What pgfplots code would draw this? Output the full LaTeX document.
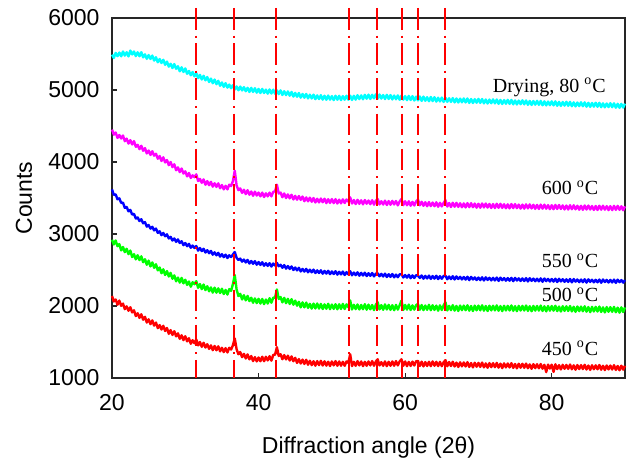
\documentclass[border=0pt]{standalone}
\usepackage{pgfplots}
\pgfplotsset{compat=1.18}
\usepackage{pgfplotstable}
\usepackage{fontspec}
\setmainfont{Liberation Sans}
\newfontfamily\seriflabel{Liberation Serif}

% XRD patterns: 2theta, then counts for each treatment temperature
\pgfplotstableread{
x dry t600 t550 t500 t450
20 5490 4450 3620 2920 2140
20.25 5445 4380 3543 2855 2063
20.5 5515 4410 3550 2910 2090
20.75 5470 4335 3483 2830 2018
21 5520 4375 3495 2860 2075
21.25 5468 4326 3433 2773 2003
21.5 5535 4368 3435 2820 2033
21.75 5478 4289 3363 2748 1956
22 5525 4325 3375 2795 1995
22.25 5466 4256 3315 2720 1934
22.5 5548 4303 3335 2770 1983
22.75 5494 4244 3270 2680 1911
23 5535 4290 3280 2720 1940
23.25 5471 4211 3215 2648 1860
23.5 5523 4238 3230 2705 1900
23.75 5469 4179 3180 2638 1835
24 5525 4225 3205 2690 1885
24.25 5453 4156 3148 2608 1810
24.5 5495 4193 3165 2650 1850
24.75 5433 4119 3103 2573 1770
25 5485 4160 3125 2630 1815
25.25 5431 4098 3075 2550 1748
25.5 5478 4150 3100 2605 1800
25.75 5409 4088 3050 2530 1728
26 5455 4115 3075 2580 1770
26.25 5385 4046 3016 2495 1693
26.5 5430 4083 3038 2535 1735
26.75 5375 4014 2984 2455 1673
27 5420 4065 3015 2510 1725
27.25 5350 3994 2968 2430 1653
27.5 5395 4028 2995 2485 1695
27.75 5325 3956 2938 2410 1613
28 5365 4000 2960 2460 1665
28.25 5305 3929 2909 2378 1598
28.5 5360 3968 2938 2425 1650
28.75 5295 3886 2891 2343 1578
29 5330 3925 2925 2395 1620
29.25 5260 3860 2875 2325 1544
29.5 5315 3910 2900 2390 1593
29.75 5250 3840 2845 2315 1526
30 5300 3870 2875 2365 1580
30.25 5225 3801 2831 2293 1509
30.5 5265 3848 2863 2340 1553
30.75 5205 3779 2809 2268 1476
31 5250 3815 2840 2330 1525
31.25 5190 3789 2806 2303 1483
31.5 5235 3828 2833 2345 1535
31.75 5165 3736 2769 2253 1453
32 5210 3765 2805 2305 1500
32.25 5146 3711 2763 2234 1433
32.5 5198 3758 2795 2298 1490
32.75 5134 3684 2743 2221 1423
33 5180 3735 2775 2275 1470
33.25 5111 3678 2733 2204 1404
33.5 5158 3725 2765 2258 1453
33.75 5094 3658 2713 2186 1386
34 5145 3705 2745 2255 1445
34.25 5081 3654 2704 2185 1385
34.5 5128 3703 2738 2245 1440
34.75 5059 3636 2686 2180 1370
35 5105 3680 2720 2240 1420
35.25 5043 3620 2679 2166 1360
35.5 5095 3670 2713 2223 1415
35.75 5033 3620 2666 2159 1355
36 5075 3685 2705 2235 1420
36.25 5024 3665 2680 2210 1395
36.5 5068 3735 2715 2305 1455
36.75 5006 3880 2750 2430 1550
37 5050 3675 2670 2230 1400
37.25 4996 3609 2639 2139 1330
37.5 5048 3633 2658 2168 1360
37.75 4994 3571 2616 2091 1290
38 5040 3615 2645 2150 1335
38.25 4983 3554 2605 2078 1271
38.5 5030 3608 2640 2140 1328
38.75 4973 3546 2590 2068 1259
39 5030 3590 2625 2115 1305
39.25 4973 3531 2586 2045 1235
39.5 5025 3588 2623 2105 1290
39.75 4963 3534 2574 2040 1230
40 5015 3575 2610 2100 1285
40.25 4958 3523 2571 2034 1233
40.5 5015 3575 2608 2098 1295
40.75 4958 3513 2559 2026 1233
41 5005 3565 2595 2090 1295
41.25 4949 3523 2558 2034 1244
41.5 5008 3575 2595 2108 1303
41.75 4951 3523 2548 2046 1241
42 5005 3585 2590 2115 1320
42.25 4948 3593 2563 2118 1324
42.5 4995 3685 2598 2230 1428
42.75 4943 3563 2552 2098 1306
43 4995 3575 2573 2125 1330
43.25 4931 3511 2531 2051 1261
43.5 4983 3563 2568 2113 1318
43.75 4929 3499 2519 2039 1259
44 4980 3550 2555 2100 1310
44.25 4921 3495 2515 2028 1243
44.5 4973 3545 2550 2095 1300
44.75 4909 3480 2500 2018 1233
45 4960 3530 2535 2075 1280
45.25 4906 3476 2495 2004 1209
45.5 4958 3528 2530 2058 1263
45.75 4894 3474 2480 1981 1201
46 4945 3520 2515 2050 1255
46.25 4893 3456 2478 1981 1196
46.5 4945 3508 2515 2048 1253
46.75 4883 3454 2468 1974 1184
47 4935 3505 2505 2030 1240
47.25 4883 3448 2468 1964 1179
47.5 4935 3500 2505 2033 1233
47.75 4873 3438 2458 1966 1171
48 4925 3490 2495 2035 1235
48.25 4874 3439 2458 1964 1179
48.5 4928 3493 2496 2029 1239
48.75 4866 3441 2449 1958 1173
49 4920 3490 2487 2022 1232
49.25 4864 3429 2450 1962 1172
49.5 4923 3483 2489 2031 1226
49.75 4866 3431 2442 1956 1166
50 4915 3485 2480 2020 1230
50.25 4860 3429 2444 1960 1175
50.5 4920 3484 2483 2025 1235
50.75 4865 3423 2436 1954 1170
51 4920 3477 2475 2024 1230
51.25 4860 3426 2439 1959 1170
51.5 4915 3481 2478 2029 1225
51.75 4865 3430 2431 1958 1170
52 4920 3480 2470 2023 1230
52.25 4865 3449 2439 1983 1210
52.5 4921 3508 2483 2077 1330
52.75 4861 3423 2426 1952 1165
53 4920 3472 2465 2017 1225
53.25 4866 3416 2429 1957 1170
53.5 4928 3475 2468 2021 1235
53.75 4874 3419 2421 1951 1175
54 4925 3468 2460 2015 1230
54.25 4871 3412 2424 1955 1165
54.5 4933 3472 2463 2025 1225
54.75 4879 3421 2416 1949 1170
55 4935 3465 2455 2019 1230
55.25 4876 3414 2419 1954 1175
55.5 4933 3469 2458 2014 1235
55.75 4884 3408 2411 1943 1170
56 4940 3462 2450 2018 1230
56.25 4879 3486 2454 2053 1260
56.5 4938 3411 2413 1953 1175
56.75 4881 3455 2446 2012 1220
57 4930 3409 2410 1947 1170
57.25 4874 3463 2449 2022 1230
57.5 4933 3403 2403 1952 1165
57.75 4876 3457 2441 2016 1225
58 4930 3406 2405 1946 1170
58.25 4869 3460 2444 2011 1230
58.5 4923 3410 2398 1941 1170
58.75 4871 3459 2436 2015 1235
59 4925 3398 2400 1950 1175
59.25 4864 3452 2439 2010 1230
59.5 4923 3486 2443 2075 1260
59.75 4866 3401 2396 1945 1170
60 4915 3455 2430 2015 1230
60.25 4859 3399 2394 1950 1164
60.5 4918 3454 2433 2020 1224
60.75 4861 3393 2386 1944 1168
61 4915 3447 2425 2009 1228
61.25 4854 3396 2389 1949 1173
61.5 4908 3451 2428 2013 1232
61.75 4856 3480 2421 2028 1237
62 4910 3399 2390 1948 1167
62.25 4849 3448 2424 2013 1227
62.5 4908 3392 2379 1943 1161
62.75 4851 3441 2418 2007 1221
63 4900 3385 2383 1947 1166
63.25 4844 3444 2422 2017 1226
63.5 4903 3388 2377 1941 1165
63.75 4846 3437 2416 2011 1230
64 4900 3386 2380 1945 1170
64.25 4839 3440 2420 2005 1225
64.5 4893 3379 2374 1935 1165
64.75 4841 3434 2414 2009 1224
65 4895 3383 2378 1944 1164
65.25 4834 3432 2417 2009 1219
65.5 4893 3471 2422 2053 1248
65.75 4836 3381 2371 1938 1163
66 4885 3430 2410 2002 1222
66.25 4834 3375 2374 1942 1166
66.5 4888 3434 2414 2012 1226
66.75 4828 3379 2368 1936 1160
67 4882 3433 2411 2001 1214
67.25 4826 3377 2375 1931 1153
67.5 4880 3427 2405 2006 1218
67.75 4829 3371 2369 1941 1162
68 4883 3425 2403 2006 1216
68.25 4827 3369 2367 1941 1160
68.5 4882 3429 2406 2010 1220
68.75 4821 3373 2360 1935 1154
69 4875 3428 2404 2000 1208
69.25 4819 3372 2368 1930 1147
69.5 4873 3422 2397 2005 1212
69.75 4823 3366 2361 1940 1156
70 4877 3420 2395 2005 1210
70.25 4821 3365 2360 1940 1154
70.5 4875 3424 2399 2010 1214
70.75 4814 3369 2354 1935 1148
71 4868 3423 2398 2000 1203
71.25 4812 3367 2362 1930 1142
71.5 4867 3417 2392 2004 1207
71.75 4816 3361 2356 1939 1151
72 4870 3416 2391 2004 1206
72.25 4814 3360 2355 1939 1150
72.5 4868 3420 2395 2009 1210
72.75 4808 3364 2349 1934 1144
73 4862 3419 2394 1999 1199
73.25 4806 3363 2358 1929 1138
73.5 4860 3413 2388 2003 1203
73.75 4809 3357 2352 1938 1147
74 4863 3412 2387 2003 1202
74.25 4807 3356 2351 1938 1146
74.5 4862 3416 2391 2008 1206
74.75 4801 3360 2345 1933 1140
75 4855 3415 2390 1998 1195
75.25 4799 3359 2354 1928 1134
75.5 4853 3409 2384 2002 1198
75.75 4803 3353 2348 1937 1143
76 4857 3408 2383 2002 1197
76.25 4801 3352 2347 1937 1141
76.5 4855 3412 2387 2007 1200
76.75 4794 3356 2341 1932 1135
77 4848 3411 2386 1997 1189
77.25 4792 3355 2350 1927 1128
77.5 4847 3405 2380 2001 1192
77.75 4796 3349 2344 1936 1137
78 4850 3404 2379 2001 1191
78.25 4794 3348 2343 1936 1135
78.5 4848 3408 2383 2006 1194
78.75 4788 3352 2337 1931 1129
79 4842 3407 2382 1996 1183
79.25 4786 3351 2346 1926 1082
79.5 4840 3401 2376 2000 1186
79.75 4789 3345 2340 1935 1131
80 4843 3400 2375 2000 1185
80.25 4787 3344 2339 1935 1085
80.5 4842 3404 2379 2004 1190
80.75 4781 3348 2333 1929 1124
81 4835 3403 2378 1993 1179
81.25 4779 3347 2342 1923 1119
81.5 4833 3397 2372 1997 1183
81.75 4783 3341 2336 1932 1128
82 4837 3396 2371 1996 1182
82.25 4781 3340 2335 1931 1127
82.5 4835 3400 2375 2000 1187
82.75 4774 3344 2329 1925 1121
83 4828 3399 2374 1989 1176
83.25 4772 3343 2338 1919 1115
83.5 4827 3393 2368 1993 1180
83.75 4776 3337 2332 1928 1124
84 4830 3392 2367 1992 1179
84.25 4774 3336 2331 1927 1124
84.5 4828 3396 2371 1996 1183
84.75 4768 3340 2325 1921 1118
85 4822 3395 2370 1985 1173
85.25 4766 3340 2335 1915 1113
85.5 4820 3389 2364 1989 1177
85.75 4769 3334 2329 1924 1122
86 4823 3389 2364 1988 1176
86.25 4767 3334 2329 1923 1121
86.5 4822 3393 2368 1992 1181
86.75 4761 3338 2323 1917 1115
87 4815 3393 2368 1981 1170
87.25 4759 3338 2333 1911 1110
87.5 4813 3387 2362 1985 1174
87.75 4763 3332 2327 1920 1119
88 4817 3387 2362 1984 1173
88.25 4761 3332 2327 1919 1118
88.5 4815 3391 2366 1988 1178
88.75 4754 3336 2321 1913 1112
89 4808 3391 2366 1977 1167
89.25 4752 3336 2331 1907 1107
89.5 4807 3385 2360 1981 1171
89.75 4756 3330 2325 1916 1116
90 4810 3385 2360 1980 1170
}\xrd

\begin{document}
\begin{tikzpicture}
\useasboundingbox (-56pt,-40.5pt) rectangle (259pt,189pt);
\begin{axis}[
  scale only axis,
  width=256.5pt, height=180pt,
  xmin=20, xmax=90, ymin=1000, ymax=6000,
  xtick={20,40,60,80},
  ytick={1000,2000,3000,4000,5000,6000},
  xtick pos=bottom, ytick pos=left,
  tick align=inside,
  major tick length=2.5pt,
  /pgf/number format/assume math mode=true,
  /pgf/number format/1000 sep={},
  ticklabel style={font=\fontsize{11.5}{13}\selectfont},
  xticklabel shift=4.5pt,
  yticklabel shift=2.7pt,
  axis line style={black!85, line width=0.6pt},
  every tick/.style={black!85, line width=0.6pt},
  xlabel={Diffraction angle (2θ)},
  ylabel={Counts},
  every axis x label/.style={at={(rel axis cs:0.5,0)}, yshift=-37.5pt, anchor=base,
    font=\fontsize{11.5}{13}\selectfont},
  every axis y label/.style={at={(rel axis cs:0,0.5)}, xshift=-40pt, rotate=90, anchor=base,
    font=\fontsize{11.5}{13}\selectfont},
  clip=false,
  every axis plot/.append style={line width=1.2pt, line join=round},
]
\addplot[color={rgb,255:red,0;green,255;blue,255}] table[x=x, y=dry] {\xrd};
\addplot[color={rgb,255:red,255;green,0;blue,255}] table[x=x, y=t600] {\xrd};
\addplot[color={rgb,255:red,0;green,0;blue,255}] table[x=x, y=t550] {\xrd};
\addplot[color={rgb,255:red,0;green,255;blue,0}] table[x=x, y=t500] {\xrd};
\addplot[color={rgb,255:red,255;green,0;blue,0}] table[x=x, y=t450] {\xrd};

% reference reflection positions
\pgfplotsinvokeforeach{31.4,36.7,42.4,52.4,56.2,59.6,61.7,65.4}{
  \addplot[red, line width=1pt, dash pattern=on 10.8pt off 3pt on 1pt off 2.8pt]
    coordinates {(#1,6140) (#1,1000)};
}

\node[anchor=base west, font=\seriflabel\fontsize{10}{12}\selectfont] at (axis cs:71.0,4972) {Drying, 80 \textsuperscript{o}C};
\node[anchor=base west, font=\seriflabel\fontsize{10}{12}\selectfont] at (axis cs:77.7,3542) {600 \textsuperscript{o}C};
\node[anchor=base west, font=\seriflabel\fontsize{10}{12}\selectfont] at (axis cs:77.7,2528) {550 \textsuperscript{o}C};
\node[anchor=base west, font=\seriflabel\fontsize{10}{12}\selectfont] at (axis cs:77.7,2056) {500 \textsuperscript{o}C};
\node[anchor=base west, font=\seriflabel\fontsize{10}{12}\selectfont] at (axis cs:77.7,1319) {450 \textsuperscript{o}C};
\end{axis}
\end{tikzpicture}
\end{document}
